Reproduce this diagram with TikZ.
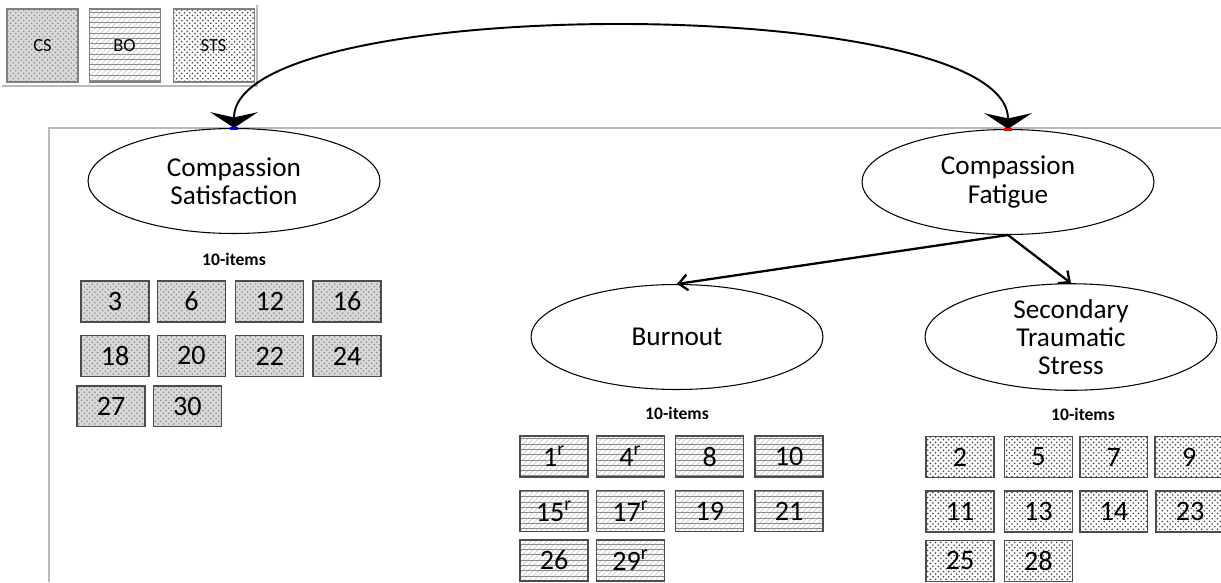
\documentclass[tikz,border=0pt]{standalone}
\usepackage{fontspec}
\setmainfont{Carlito}
\usepackage{tikz}
\usetikzlibrary{positioning}
\usetikzlibrary{calc}
\usetikzlibrary{arrows.meta}
\usetikzlibrary{shapes.geometric}
\usetikzlibrary{patterns}

\begin{document}
\begin{tikzpicture}[x=0.02cm, y=-0.02cm,
	latent/.style={ellipse, draw, line width=0.6pt, minimum width=5.84cm, minimum height=2.1cm, inner sep=0pt, align=center, font=\fontsize{15.5}{16}\selectfont},
	item/.style={draw=black!70, line width=0.8pt, minimum width=1.36cm, minimum height=0.82cm, inner sep=0pt, font=\fontsize{16}{18}\selectfont},
	legendbox/.style={draw=gray, line width=0.6pt, minimum width=1.42cm, minimum height=1.46cm, inner sep=0pt, font=\fontsize{10.5}{12}\selectfont},
	cspat/.style={preaction={fill=gray!30}, pattern=crosshatch dots, pattern color=gray!90},
	bopat/.style={preaction={pattern=north east lines, pattern color=gray!40}, pattern=horizontal lines, pattern color=gray!90},
	stspat/.style={pattern=crosshatch dots, pattern color=black!75},
	count/.style={font=\bfseries\fontsize{10}{12}\selectfont, inner sep=0pt}]
				\useasboundingbox (0,0) rectangle (1221,582);

				% frames
				\draw[gray!55, line width=0.6pt] (257,5) -- (257,86) -- (2,86);
				\draw[gray!55, line width=0.6pt] (1221,128) -- (49,128) -- (49,582);

				% legend
				\node[legendbox, cspat] (lcs) at (42.5,45.5) {CS};
				\node[legendbox, bopat, right = 0.2cm of lcs] (lbo) {BO};
				\node[legendbox, stspat, minimum width=1.62cm, right = 0.24cm of lbo] (lsts) {STS};

				% factors
				\node[latent] (cs) at (234,181) {Compassion\\Satisfaction};
				\node[latent] (cf) at (1008,182) {Compassion\\Fatigue};
				\node[latent] (bo) at (677,337) {Burnout};
				\node[latent] (sts) at (1071,337) {Secondary\\Traumatic\\Stress};

				\node[count, below = 0.38cm of cs] (cscount) {10-items};
				\node[count, below = 0.34cm of bo] (bocount) {10-items};
				\node[count, below = 0.34cm of sts, xshift=0.24cm] (stscount) {10-items};

				% CS items
				\node[item, cspat] (cs3) at (115,301.5) {3};
				\node[item, cspat, right = 0.14cm of cs3] (cs6) {6};
				\node[item, cspat, right = 0.18cm of cs6] (cs12) {12};
				\node[item, cspat, right = 0.16cm of cs12] (cs16) {16};
				\node[item, cspat, below = 0.24cm of cs3] (cs18) {18};
				\node[item, cspat, right = 0.14cm of cs18] (cs20) {20};
				\node[item, cspat, right = 0.18cm of cs20] (cs22) {22};
				\node[item, cspat, right = 0.16cm of cs22] (cs24) {24};
				\node[item, cspat, below = 0.16cm of cs18, xshift=-0.08cm] (cs27) {27};
				\node[item, cspat, right = 0.14cm of cs27] (cs30) {30};

				% BO items
				\node[item, bopat] (bo1) at (554,456.5) {1\textsuperscript{r}};
				\node[item, bopat, right = 0.14cm of bo1] (bo4) {4\textsuperscript{r}};
				\node[item, bopat, right = 0.2cm of bo4] (bo8) {8};
				\node[item, bopat, right = 0.2cm of bo8] (bo10) {10};
				\node[item, bopat, below = 0.24cm of bo1] (bo15) {15\textsuperscript{r}};
				\node[item, bopat, right = 0.14cm of bo15] (bo17) {17\textsuperscript{r}};
				\node[item, bopat, right = 0.2cm of bo17] (bo19) {19};
				\node[item, bopat, right = 0.2cm of bo19] (bo21) {21};
				\node[item, bopat, below = 0.14cm of bo15] (bo26) {26};
				\node[item, bopat, right = 0.14cm of bo26] (bo29) {29\textsuperscript{r}};

				% STS items
				\node[item, stspat] (sts2) at (960,457) {2};
				\node[item, stspat, right = 0.18cm of sts2] (sts5) {5};
				\node[item, stspat, right = 0.12cm of sts5] (sts7) {7};
				\node[item, stspat, right = 0.12cm of sts7] (sts9) {9};
				\node[item, stspat, below = 0.24cm of sts2] (sts11) {11};
				\node[item, stspat, right = 0.18cm of sts11] (sts13) {13};
				\node[item, stspat, right = 0.12cm of sts13] (sts14) {14};
				\node[item, stspat, right = 0.14cm of sts14] (sts23) {23};
				\node[item, stspat, below = 0.14cm of sts11] (sts25) {25};
				\node[item, stspat, right = 0.18cm of sts25] (sts28) {28};

				% edges
				\draw[{Stealth[width=27pt, length=9pt, inset=3pt]}-{Stealth[width=27pt, length=9pt, inset=3pt]}, line width=1.1pt]
					(cs.north) .. controls +(0,-136) and +(0,-136) .. (cf.north);
				\fill[blue] ($(cs.north) + (-4,-1)$) rectangle ($(cs.north) + (4,2)$);
				\fill[red] ($(cf.north) + (-4,-1)$) rectangle ($(cf.north) + (4,2)$);

				\draw[-{Straight Barb[length=5pt, width=9pt]}, line width=1.3pt] (cf.south) -- (bo.north);
				\draw[-{Straight Barb[length=5pt, width=9pt]}, line width=1.3pt] (cf.south) -- (sts.north);
			\end{tikzpicture}
\end{document}
